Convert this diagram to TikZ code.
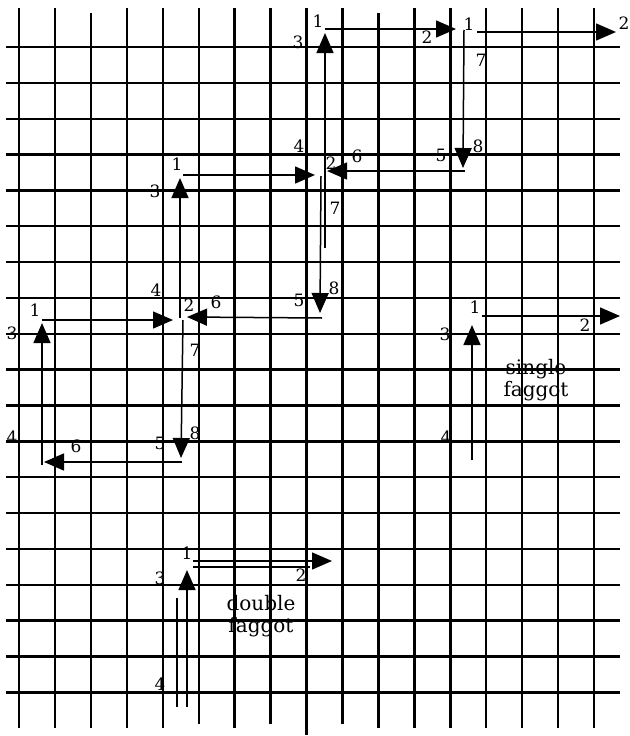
\documentclass[tikz,border=0pt]{standalone}
\usepackage{fontspec}
\setmainfont{DejaVu Serif}
\usepackage{tikz}
\usetikzlibrary{arrows.meta}

\begin{document}
\begin{tikzpicture}[
  x=1pt, y=-1pt,
  gridline/.style={line width=2.4pt, draw=black},
  stitch/.style={line width=1.5pt, draw=black},
  stitcharrow/.style={stitch, -{Triangle[length=20pt, width=17pt]}},
  num/.style={inner sep=0pt, font=\fontsize{17}{19}\selectfont},
  caption/.style={inner sep=0pt, align=center, font=\fontsize{20}{22}\selectfont}
]
\useasboundingbox (0,0) rectangle (629,736);

\foreach \gx/\gt/\gb in {19/8/728, 54.9/8/728, 90.9/13/728, 126.8/8/728, 162.8/8/728, 198.7/8/724,
  234.6/8/728, 270.6/8/724, 306.5/8/735, 342.5/8/724, 378.4/13/728, 414.3/8/728, 450.3/8/728,
  486.2/8/728, 522.2/8/728, 558.1/8/728, 594/8/728}
  \draw[gridline] (\gx,\gt) -- (\gx,\gb);
\foreach \j in {0,...,18}
  \draw[gridline] (6,47+35.85*\j) -- (620,47+35.85*\j);

\coordinate (tA) at (325,248);
\coordinate (tB) at (325,33);
\coordinate (tC) at (325,29);
\coordinate (tD) at (456,29);
\coordinate (tE) at (464,30);
\coordinate (tF) at (463,168);
\coordinate (tG) at (465,171);
\coordinate (tH) at (327,171);
\coordinate (trA) at (477,32);
\coordinate (trB) at (616,32);

\coordinate (mA) at (180,318);
\coordinate (mB) at (180,178);
\coordinate (mC) at (183,175);
\coordinate (mD) at (315,175);
\coordinate (mE) at (321,176);
\coordinate (mF) at (320,313);
\coordinate (mG) at (322,318);
\coordinate (mH) at (187,317);

\coordinate (lA) at (42,465);
\coordinate (lB) at (42,323);
\coordinate (lC) at (42,320);
\coordinate (lD) at (173,320);
\coordinate (lE) at (183,320);
\coordinate (lF) at (181,458);
\coordinate (lG) at (182,462);
\coordinate (lH) at (44,462);

\coordinate (sA) at (472,460);
\coordinate (sB) at (472,325);
\coordinate (sC) at (482,316);
\coordinate (sD) at (620,316);

\coordinate (dA) at (187,707);
\coordinate (dB) at (187,570);
\coordinate (dC) at (177,707);
\coordinate (dD) at (177,598);
\coordinate (dE) at (193,561);
\coordinate (dF) at (332,561);
\coordinate (dG) at (193,567);
\coordinate (dH) at (310,567);

\draw[stitcharrow] (tA) -- (tB);
\draw[stitcharrow] (tC) -- (tD);
\draw[stitcharrow] (tE) -- (tF);
\draw[stitcharrow] (tG) -- (tH);
\draw[stitcharrow] (trA) -- (trB);

\draw[stitcharrow] (mA) -- (mB);
\draw[stitcharrow] (mC) -- (mD);
\draw[stitcharrow] (mE) -- (mF);
\draw[stitcharrow] (mG) -- (mH);

\draw[stitcharrow] (lA) -- (lB);
\draw[stitcharrow] (lC) -- (lD);
\draw[stitcharrow] (lE) -- (lF);
\draw[stitcharrow] (lG) -- (lH);

\draw[stitcharrow] (sA) -- (sB);
\draw[stitcharrow] (sC) -- (sD);

\draw[stitcharrow] (dA) -- (dB);
\draw[stitch] (dC) -- (dD);
\draw[stitcharrow] (dE) -- (dF);
\draw[stitch] (dG) -- (dH);

\node[num] (t1) at (318,21) {1};
\node[num] (t3) at (298,42) {3};
\node[num] (t2) at (427,37) {2};
\node[num] (tr1) at (469,24) {1};
\node[num] (tr2) at (624,23) {2};
\node[num] (t7) at (481,60) {7};
\node[num] (t5) at (441,155) {5};
\node[num] (t8) at (478,146) {8};
\node[num] (t6) at (357,156) {6};
\node[num] (tj2) at (331,163) {2};
\node[num] (t4) at (299,146) {4};

\node[num] (m1) at (177,164) {1};
\node[num] (m3) at (155,191) {3};
\node[num] (m7) at (335,208) {7};
\node[num] (m5) at (299,300) {5};
\node[num] (m8) at (334,288) {8};
\node[num] (m4) at (156,290) {4};
\node[num] (m2) at (189,305) {2};
\node[num] (m6) at (216,302) {6};

\node[num] (l7) at (195,350) {7};
\node[num] (l1) at (35,310) {1};
\node[num] (l3) at (12,333) {3};
\node[num] (l4) at (12,437) {4};
\node[num] (l6) at (76,446) {6};
\node[num] (l5) at (160,443) {5};
\node[num] (l8) at (195,433) {8};

\node[num] (s1) at (475,307) {1};
\node[num] (s3) at (445,334) {3};
\node[num] (s4) at (446,437) {4};
\node[num] (s2) at (585,325) {2};
\node[caption] (single) at (536,380) {single\\faggot};

\node[num] (d1) at (187,553) {1};
\node[num] (d3) at (160,578) {3};
\node[num] (d2) at (301,575) {2};
\node[num] (d4) at (160,684) {4};
\node[caption] (double) at (261,616) {double\\faggot};
\end{tikzpicture}
\end{document}
